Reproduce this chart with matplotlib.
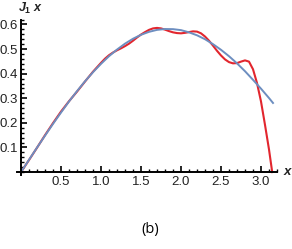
import numpy as np
from matplotlib import pyplot as plt
from matplotlib.ticker import MultipleLocator, FixedLocator

plt.rcParams['font.family'] = ['Liberation Sans', 'DejaVu Sans']
plt.rcParams['mathtext.fontset'] = 'custom'
plt.rcParams['mathtext.it'] = 'Liberation Sans:italic:bold'
plt.rcParams['mathtext.rm'] = 'Liberation Sans:bold'

# smooth reference curve (blue)
x_blue = [0.0, 0.1, 0.2, 0.3, 0.4, 0.5, 0.6, 0.7, 0.8, 0.9, 1.0, 1.1, 1.2,
          1.3, 1.4, 1.5, 1.6, 1.7, 1.8, 1.9, 2.0, 2.1, 2.2, 2.3, 2.4, 2.5,
          2.6, 2.7, 2.8, 2.9, 3.0, 3.1, 3.15]
y_blue = [0.0, 0.050, 0.0995, 0.148, 0.196, 0.242, 0.287, 0.329, 0.369,
          0.406, 0.440, 0.471, 0.498, 0.522, 0.542, 0.558, 0.570, 0.578,
          0.5815, 0.581, 0.577, 0.568, 0.556, 0.540, 0.520, 0.497, 0.471,
          0.442, 0.410, 0.375, 0.339, 0.301, 0.281]

# approximation with wiggles (red)
x_red = [0.0, 0.1, 0.2, 0.3, 0.4, 0.5, 0.6, 0.7, 0.8, 0.9, 1.0, 1.05, 1.1,
         1.15, 1.2, 1.25, 1.3, 1.35, 1.4, 1.45, 1.5, 1.55, 1.6, 1.65, 1.7,
         1.75, 1.8, 1.85, 1.9, 1.95, 2.0, 2.05, 2.1, 2.15, 2.2, 2.25, 2.3,
         2.35, 2.4, 2.45, 2.5, 2.55, 2.6, 2.65, 2.7, 2.75, 2.8, 2.85, 2.9,
         2.95, 3.0, 3.05, 3.1, 3.14]
y_red = [0.0, 0.049, 0.099, 0.150, 0.199, 0.246, 0.288, 0.327, 0.368,
         0.408, 0.444, 0.461, 0.475, 0.486, 0.495, 0.503, 0.512, 0.522,
         0.534, 0.547, 0.559, 0.569, 0.578, 0.584, 0.586, 0.584, 0.579,
         0.573, 0.568, 0.565, 0.564, 0.566, 0.569, 0.572, 0.571, 0.564,
         0.551, 0.534, 0.514, 0.493, 0.474, 0.458, 0.447, 0.442, 0.443,
         0.449, 0.454, 0.449, 0.418, 0.362, 0.287, 0.192, 0.092, 0.0]

fig = plt.figure(figsize=(2.92, 2.49), dpi=100)
ax = fig.add_axes([17 / 292, 0.297, 260 / 292, 0.6245])

ax.plot(x_red, y_red, color='#e2262e', lw=1.5, solid_joinstyle='round')
ax.plot(x_blue, y_blue, color='#6d8ec0', lw=1.4, solid_joinstyle='round')

ax.set_xlim(-0.05, 3.2)
ax.set_ylim(-0.012, 0.62)

for s in ['top', 'right']:
    ax.spines[s].set_visible(False)
for s in ['left', 'bottom']:
    ax.spines[s].set_position(('data', 0))
    ax.spines[s].set_linewidth(1.4)
    ax.spines[s].set_color('black')

ax.xaxis.set_major_locator(FixedLocator([0.5, 1.0, 1.5, 2.0, 2.5, 3.0]))
ax.xaxis.set_minor_locator(MultipleLocator(0.1))
ax.yaxis.set_major_locator(FixedLocator([0.1, 0.2, 0.3, 0.4, 0.5, 0.6]))
ax.yaxis.set_minor_locator(MultipleLocator(0.02))
ax.tick_params(which='major', direction='in', length=4, width=1.2,
               labelsize=9.5, colors='black', pad=3)
ax.tick_params(which='minor', direction='in', length=2.5, width=1.0)
ax.tick_params(axis='x', labelcolor='#222222')
ax.tick_params(axis='y', labelcolor='#222222', pad=2)

ax.text(-0.035, 0.636, r'$J_1\ x$', fontsize=9, ha='left', va='bottom',
        color='#222222')
ax.text(3.27, 0.0, r'$x$', fontsize=9.5, ha='left', va='center', color='#222222')

fig.text(150 / 292, 1 - 229 / 249, '(b)', fontsize=10.5, ha='center',
         va='center', family=['Open Sans', 'DejaVu Sans'])

fig.savefig('out.png', dpi=100)
